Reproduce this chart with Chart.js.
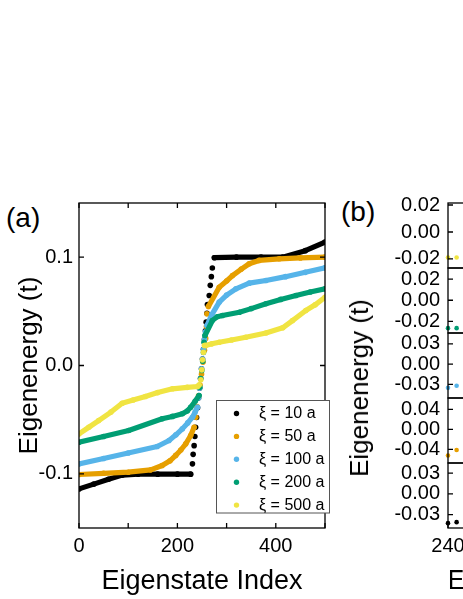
<!DOCTYPE html>
<html>
<head>
<meta charset="utf-8">
<script src="https://cdn.jsdelivr.net/npm/chart.js@4.4.1/dist/chart.umd.min.js"></script>
<style>
  html, body { margin: 0; padding: 0; background: #fff; }
  body { width: 463px; height: 599px; overflow: hidden; position: relative; font-family: 'Liberation Sans', Arial, sans-serif; }
  canvas { position: absolute; top: 0; }
  #chartA { left: 0; }
  #chartB { left: 330px; }
  .tag { position: absolute; font-size: 28px; line-height: 1; color: #000; }
  #ylabB { position: absolute; left: 359px; top: 388px; font-size: 26px; line-height: 1; white-space: nowrap;
           transform: translate(-50%, -50%) rotate(-90deg); color: #000; }
</style>
</head>
<body>
<div class="tag" style="left:6px;top:204px">(a)</div>
<div class="tag" style="left:341px;top:198px">(b)</div>
<canvas id="chartA" width="340" height="599"></canvas>
<canvas id="chartB" width="320" height="599"></canvas>
<div id="ylabB">Eigenenergy (t)</div>
<script>
const FONT = "'Liberation Sans', Arial, sans-serif";

// legend text and colours
const seriesLabels = ['ξ = 10 a', 'ξ = 50 a', 'ξ = 100 a', 'ξ = 200 a', 'ξ = 500 a'];
const seriesColors = ['#000000', '#E69F00', '#56B4E9', '#009E73', '#F0E442'];

// panel (a): eigenstate index / eigenenergy
const idx10 = [0, 30, 60, 88, 120, 160, 200, 227, 230.6, 232, 234, 235.5, 237, 239, 241, 243, 245, 247, 249, 251, 253, 255, 257, 258.5, 260, 261, 264.7, 266.8, 269, 271, 275, 320, 370, 414, 460, 500];
const e10 = [-0.1139, -0.1095, -0.105, -0.1012, -0.1003, -0.1003, -0.1003, -0.1003, -0.0908, -0.082, -0.074, -0.0656, -0.057, -0.048, -0.039, -0.030, -0.021, -0.012, -0.003, 0.006, 0.015, 0.024, 0.032, 0.040, 0.0483, 0.0563, 0.0646, 0.074, 0.082, 0.090, 0.0995, 0.1, 0.1, 0.1, 0.106, 0.1139];

const idx50 = [0, 50, 100, 145.7, 169, 185, 196.6, 207, 217, 227, 234, 237.5, 240, 243, 246, 249, 252, 255, 257.5, 259, 260, 263, 285, 300, 312, 330, 346, 366, 407, 450, 500];
const e50 = [-0.1006, -0.0995, -0.0985, -0.0963, -0.0923, -0.088, -0.083, -0.078, -0.0723, -0.0646, -0.057, -0.0477, -0.038, -0.028, -0.018, -0.008, 0.003, 0.014, 0.025, 0.036, 0.0477, 0.0545, 0.0723, 0.078, 0.083, 0.089, 0.0939, 0.097, 0.0985, 0.0993, 0.1];

const idx100 = [0, 50, 100, 159, 183, 197, 210, 221, 230.6, 236, 240.8, 243, 245, 247, 249, 251, 253, 255, 257, 260, 270, 285, 300, 319, 346, 380, 420, 460, 500];
const e100 = [-0.0908, -0.0858, -0.0808, -0.0748, -0.0692, -0.064, -0.0585, -0.053, -0.0477, -0.043, -0.0385, -0.030, -0.021, -0.012, -0.003, 0.006, 0.015, 0.024, 0.031, 0.0369, 0.047, 0.0585, 0.065, 0.0708, 0.076, 0.0785, 0.082, 0.086, 0.0902];

const idx200 = [0, 50, 101, 169, 190, 210, 220, 227, 236, 244, 245.6, 247.5, 249.6, 251.5, 253, 254, 256, 271, 281, 291.6, 326, 350, 380, 410, 441, 470, 500];
const e200 = [-0.0708, -0.0655, -0.060, -0.0492, -0.047, -0.0446, -0.042, -0.0385, -0.033, -0.0277, -0.020, -0.012, -0.0046, 0.004, 0.012, 0.0215, 0.0277, 0.0415, 0.045, 0.0462, 0.0492, 0.0525, 0.057, 0.061, 0.0646, 0.0678, 0.0708];

const idx500 = [0, 20, 40, 65, 87.7, 110, 135, 160, 190, 220, 241, 244, 247.6, 249.5, 251, 253, 255, 257.6, 270, 285, 310, 339, 380, 414, 434, 461, 480, 500];
const e500 = [-0.0631, -0.057, -0.0508, -0.043, -0.0348, -0.0318, -0.0286, -0.025, -0.0215, -0.0202, -0.0194, -0.018, -0.0132, -0.004, 0.0052, 0.0123, 0.0185, 0.0185, 0.020, 0.0215, 0.0235, 0.0261, 0.030, 0.0348, 0.0415, 0.0508, 0.056, 0.063];

const xLabelsA = [0, 200, 400];
const xMarksA = [0, 100, 200, 300, 400, 500];
const yLabelsA = [-0.1, 0, 0.1];

// panel (b): zoom on the first states of the gap, one sub-panel per ξ (top to bottom: 500, 200, 100, 50, 10)
const zoomIdx = [240, 241];
const zoom10 = [-0.0425, -0.041];
const zoom50 = [-0.052, -0.041];
const zoom100 = [-0.035, -0.032];
const zoom200 = [-0.0264, -0.0264];
const zoom500 = [-0.0189, -0.0189];
const zoomMin = [-0.0267, -0.031, -0.050, -0.067, -0.0495];
const zoomMax = [0.0215, 0.0305, 0.046, 0.0626, 0.0447];
const zoomTicks = [[-0.02, 0, 0.02], [-0.02, 0, 0.02], [-0.03, 0, 0.03], [-0.04, 0, 0.04], [-0.03, 0, 0.03]];
const xLabelsB = [240, 250, 260];

const seriesIdx = [idx10, idx50, idx100, idx200, idx500];
const seriesVal = [e10, e50, e100, e200, e500];
const zoomVal = [zoom10, zoom50, zoom100, zoom200, zoom500];

const pts = (xs, ys) => xs.map((x, i) => ({ x: x, y: ys[i] }));

// steep runs are separate dots in the original, so no line there
const dotGap = color => ({
  borderColor: c => {
    const dx = Math.abs(c.p1.x - c.p0.x), dy = Math.abs(c.p1.y - c.p0.y);
    return (dy > 4 && dy > 2.5 * dx) ? 'rgba(0,0,0,0)' : color;
  }
});

const tickFont = { family: FONT, size: 20 };
const titleFontY = { family: FONT, size: 26 };
const titleFontX = { family: FONT, size: 27 };

// box around the plot with inward tick marks
const framePlugin = {
  id: 'frame',
  afterDatasetsDraw(chart, args, o) {
    const { ctx, chartArea: a, scales } = chart;
    const len = 5;
    ctx.save();
    ctx.strokeStyle = '#000';
    ctx.lineWidth = 1.3;
    o.boxes.forEach(b => {
      const ys = scales[b.axis];
      ctx.strokeRect(a.left, ys.top, a.right - a.left, ys.bottom - ys.top);
      ctx.beginPath();
      b.marks.forEach(v => {
        const p = ys.getPixelForValue(v);
        ctx.moveTo(a.left, p); ctx.lineTo(a.left + len, p);
        ctx.moveTo(a.right, p); ctx.lineTo(a.right - len, p);
      });
      ctx.stroke();
    });
    ctx.beginPath();
    o.xMarks.forEach(v => {
      const p = scales.x.getPixelForValue(v);
      ctx.moveTo(p, a.bottom); ctx.lineTo(p, a.bottom - len);
      if (o.topMarks) { ctx.moveTo(p, a.top); ctx.lineTo(p, a.top + len); }
    });
    ctx.stroke();
    ctx.restore();
  }
};

const boxLegend = {
  id: 'boxLegend',
  afterDraw(chart, args, o) {
    const ctx = chart.ctx;
    ctx.save();
    ctx.fillStyle = '#fff';
    ctx.fillRect(o.left, o.top, o.width, o.height);
    ctx.strokeStyle = '#555';
    ctx.lineWidth = 1;
    ctx.strokeRect(o.left, o.top, o.width, o.height);
    ctx.font = '16px ' + FONT;
    ctx.textBaseline = 'middle';
    chart.data.datasets.forEach((ds, i) => {
      const y = o.top + o.first + i * o.step;
      ctx.beginPath();
      ctx.arc(o.markX, y, 2.7, 0, 2 * Math.PI);
      ctx.fillStyle = ds.borderColor;
      ctx.fill();
      ctx.fillStyle = '#000';
      ctx.fillText(ds.label, o.textX, y);
    });
    ctx.restore();
  }
};

new Chart(document.getElementById('chartA'), {
  type: 'line',
  data: {
    datasets: seriesLabels.map((label, i) => ({
      label: label,
      data: pts(seriesIdx[i], seriesVal[i]),
      borderColor: seriesColors[i],
      backgroundColor: seriesColors[i],
      pointBackgroundColor: seriesColors[i],
      borderWidth: 5.2,
      pointRadius: 2.8,
      pointBorderWidth: 0,
      pointHoverRadius: 0,
      tension: 0,
      fill: false,
      borderCapStyle: 'round',
      borderJoinStyle: 'round',
      order: 5 - i,
      segment: dotGap(seriesColors[i])
    }))
  },
  options: {
    responsive: false,
    animation: false,
    devicePixelRatio: 1,
    events: [],
    layout: { padding: { top: 203, right: 15, left: 0, bottom: 0 }, autoPadding: false },
    plugins: {
      legend: { display: false },
      tooltip: { enabled: false },
      frame: { boxes: [{ axis: 'y', marks: yLabelsA }], xMarks: xMarksA, topMarks: true },
      boxLegend: { left: 216.5, top: 400.5, width: 113, height: 112.5, first: 13, step: 22.9, markX: 236.5, textX: 259 }
    },
    scales: {
      x: {
        type: 'linear', min: 0, max: 500,
        grid: { display: false, drawTicks: false },
        border: { display: false },
        afterBuildTicks: s => { s.ticks = xLabelsA.map(v => ({ value: v })); },
        afterFit: s => { s.height = 71; },
        ticks: { font: tickFont, color: '#000', padding: 6, maxRotation: 0, autoSkip: false },
        title: { display: true, text: 'Eigenstate Index', font: titleFontX, color: '#000', padding: { top: 0, bottom: 1 } }
      },
      y: {
        type: 'linear', min: -0.15, max: 0.15,
        grid: { display: false, drawTicks: false },
        border: { display: false },
        afterBuildTicks: s => { s.ticks = yLabelsA.map(v => ({ value: v })); },
        afterFit: s => { s.width = 79; },
        ticks: { font: tickFont, color: '#000', padding: 6, autoSkip: false, callback: v => v.toFixed(1) },
        title: { display: true, text: 'Eigenenergy (t)', font: titleFontY, color: '#000', padding: { top: 14, bottom: 0 } }
      }
    }
  },
  plugins: [framePlugin, boxLegend]
});

// panel (b): stacked y axes; the first axis defined sits at the bottom, so build black (ξ = 10 a) first
const zoomAxes = {};
const zoomSets = [];
for (let p = zoomMin.length - 1; p >= 0; p--) {
  const s = 4 - p;
  const id = 'yb' + p;
  zoomAxes[id] = {
    type: 'linear', position: 'left', stack: 'zoom', stackWeight: 1, offset: false,
    min: zoomMin[p], max: zoomMax[p],
    grid: { display: false, drawTicks: false },
    border: { display: false },
    afterBuildTicks: sc => { sc.ticks = zoomTicks[p].map(v => ({ value: v })); },
    afterFit: sc => { sc.width = 118; },
    ticks: { font: tickFont, color: '#000', padding: 8, autoSkip: false, callback: v => v.toFixed(2) }
  };
  zoomSets.push({
    label: seriesLabels[s],
    data: pts(zoomIdx, zoomVal[s]),
    yAxisID: id,
    showLine: false,
    backgroundColor: seriesColors[s],
    pointBackgroundColor: seriesColors[s],
    borderColor: seriesColors[s],
    pointRadius: 2.3,
    pointBorderWidth: 0,
    clip: false
  });
}

new Chart(document.getElementById('chartB'), {
  type: 'line',
  data: { datasets: zoomSets },
  options: {
    responsive: false,
    animation: false,
    devicePixelRatio: 1,
    events: [],
    layout: { padding: { top: 203, right: 21, left: 0, bottom: 0 }, autoPadding: false },
    plugins: {
      legend: { display: false },
      tooltip: { enabled: false },
      frame: { boxes: zoomMin.map((mn, p) => ({ axis: 'yb' + p, marks: zoomTicks[p] })), xMarks: xLabelsB, topMarks: false }
    },
    scales: Object.assign({
      x: {
        type: 'linear', min: 240, max: 261,
        grid: { display: false, drawTicks: false },
        border: { display: false },
        afterBuildTicks: s => { s.ticks = xLabelsB.map(v => ({ value: v })); },
        afterFit: s => { s.height = 71; },
        ticks: { font: tickFont, color: '#000', padding: 6, maxRotation: 0, autoSkip: false },
        title: { display: true, text: 'Eigenstate Index', font: titleFontX, color: '#000', padding: { top: 0, bottom: 1 } }
      }
    }, zoomAxes)
  },
  plugins: [framePlugin]
});
</script>
</body>
</html>
